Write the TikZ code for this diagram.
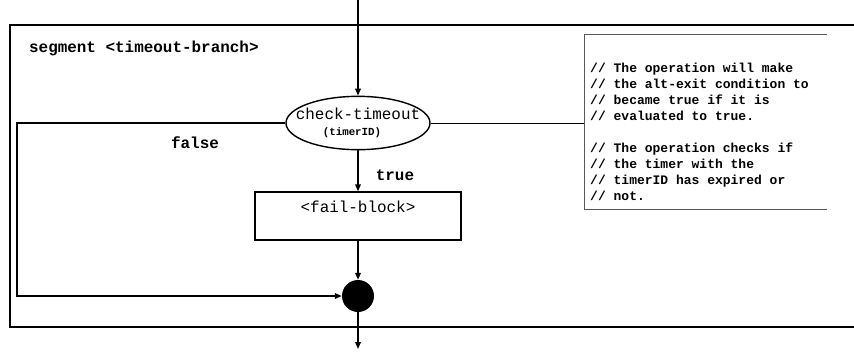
\documentclass[tikz,border=0pt]{standalone}
\usepackage{fontspec}
\setmonofont{Liberation Mono}
\usetikzlibrary{shapes.geometric,arrows.meta}

\tikzset{
	flow/.style={line width=1.2pt,-{Triangle[length=0.21cm,width=0.17cm]}},
	bigtxt/.style={font=\ttfamily\fontsize{13.6}{16}\selectfont},
	notetxt/.style={font=\ttfamily\bfseries\fontsize{11.1}{13.6}\selectfont}
}

\begin{document}
\begin{tikzpicture}[x=0.03cm,y=-0.03cm]
	
	\useasboundingbox (0,0) rectangle (854,351);
	%\draw[step=10,black,thin] (0,0) grid (854,351);
	
	% segment frame, open to the right
	\draw [line width=1.7pt] (854,25)--(10,25)--(10,327)--(854,327);
	\node [bigtxt,font=\ttfamily\bfseries\fontsize{13.6}{16}\selectfont,anchor=west] (segname) at (25,48) {segment <timeout-branch>};
	
	\coordinate (entry) at (358,0);
	\coordinate (exit) at (358,349);
	
	\node [draw,ellipse,line width=1.2pt,minimum width=4.32cm,minimum height=1.6cm,inner sep=0pt] (check) at (358,123) {};
	\node [bigtxt] (checklbl) at (358,114) {check-timeout};
	\node [font=\ttfamily\bfseries\fontsize{9.2}{11}\selectfont] (timerlbl) at (352,133) {(timerID)};
	
	\node [draw,line width=1.2pt,minimum width=6.18cm,minimum height=1.44cm,inner sep=0pt] (failblk) at (358,216) {};
	\node [bigtxt] (faillbl) at (358,207) {<fail-block>};
	
	\node [circle,fill=black,minimum size=0.96cm,inner sep=0pt] (merge) at (358,296) {};
	
	\draw [flow] (entry)--(check.north);
	\draw [flow] (check.south)--(failblk.north);
	\draw [flow] (failblk.south)--(merge.north);
	\draw [flow] (merge.south)--(exit);
	\draw [flow] (check.west)--(17,123)|-(merge.west);
	
	\node [bigtxt,font=\ttfamily\bfseries\fontsize{13.6}{16}\selectfont] (falselbl) at (195,143) {false};
	\node [bigtxt,font=\ttfamily\bfseries\fontsize{13.6}{16}\selectfont] (truelbl) at (395,175) {true};
	
	
	% comment box, open to the right
	\draw [gray!70!black,line width=0.7pt] (827,34)--(584,34)--(584,209)--(827,209);
	\coordinate (notein) at (584,123);
	\draw [line width=0.7pt] (check.east)--(notein);
	\node [notetxt,align=left,anchor=north west,inner sep=0pt] (note) at (590,63) {// The operation will make\\
		// the alt-exit condition to\\
		// became true if it is\\
		// evaluated to true.\\[0.48cm]
		// The operation checks if\\
		// the timer with the\\
		// timerID has expired or\\
		// not.};
	
\end{tikzpicture}
\end{document}
